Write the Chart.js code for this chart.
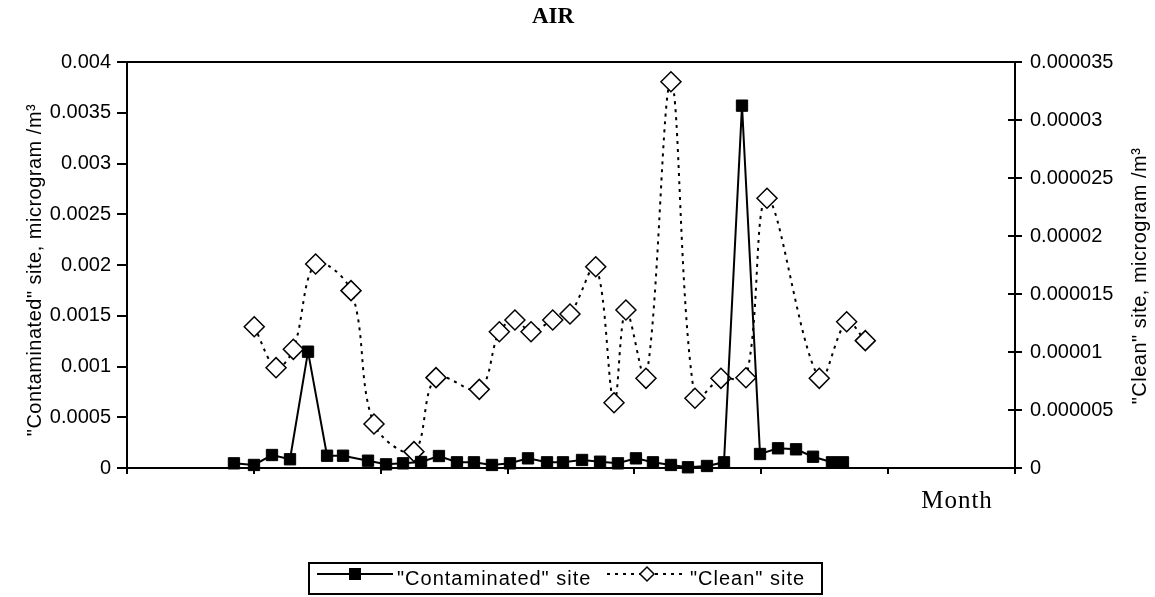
<!DOCTYPE html>
<html><head><meta charset="utf-8">
<script src="https://cdn.jsdelivr.net/npm/chart.js@4.4.0/dist/chart.umd.min.js"></script>
<style>html,body{margin:0;padding:0;background:#fff;} canvas{display:block;}</style>
</head><body>
<canvas id="c" width="1155" height="597"></canvas>
<script>
const chartTitle = 'AIR';
const xAxisTitle = 'Month';
const leftAxisTitle = '"Contaminated" site, microgram /m\u00B3';
const rightAxisTitle = '"Clean" site, microgram /m\u00B3';
const seriesNames = ['"Contaminated" site', '"Clean" site'];

const contaminatedMonth = [0.843,1.001,1.143,1.285,1.427,1.577,1.703,1.900,2.042,2.176,2.318,2.459,2.601,2.735,2.877,3.019,3.161,3.311,3.437,3.587,3.729,3.870,4.012,4.146,4.288,4.422,4.572,4.706,4.848,4.990,5.132,5.274,5.408,5.557,5.644];
const contaminatedValue = [0.000046,0.00003,0.000128,0.000086,0.001146,0.000121,0.000121,0.000072,0.000036,0.000046,0.000059,0.000118,0.000056,0.000056,0.00003,0.000046,0.000095,0.000056,0.000056,0.000079,0.000062,0.000046,0.000095,0.000056,0.00003,0.000007,0.00002,0.000056,0.00357,0.000138,0.000194,0.000184,0.000111,0.000056,0.000056];

const cleanMonth = [1.003,1.175,1.311,1.487,1.766,1.947,2.262,2.436,2.777,2.935,3.058,3.185,3.356,3.492,3.695,3.839,3.933,4.091,4.288,4.477,4.682,4.879,5.045,5.457,5.673,5.820];
const cleanValue = [1.218e-5,8.65e-6,1.023e-5,1.759e-5,1.529e-5,3.79e-6,1.41e-6,7.79e-6,6.78e-6,1.175e-5,1.276e-5,1.175e-5,1.276e-5,1.328e-5,1.735e-5,5.63e-6,1.362e-5,7.73e-6,3.330e-5,6.01e-6,7.73e-6,7.78e-6,2.325e-5,7.73e-6,1.261e-5,1.098e-5];

const leftTickLabels = ['0','0.0005','0.001','0.0015','0.002','0.0025','0.003','0.0035','0.004'];
const rightTickLabels = ['0','0.000005','0.00001','0.000015','0.00002','0.000025','0.00003','0.000035'];

const leftStep = 0.0005, rightStep = 0.000005;

const decor = {
  id: 'decor',
  afterDraw(chart) {
    const ctx = chart.ctx, a = chart.chartArea;
    const ds0 = chart.data.datasets[0], ds1 = chart.data.datasets[1];
    ctx.save();
    ctx.strokeStyle = '#000';
    ctx.lineWidth = 2;
    // top frame line
    ctx.beginPath(); ctx.moveTo(a.left - 1, a.top); ctx.lineTo(a.right + 1, a.top); ctx.stroke();
    // inward half of the right-axis cross ticks
    const y2 = chart.scales.y2;
    y2.ticks.forEach(t => {
      const py = Math.round(y2.getPixelForValue(t.value));
      ctx.beginPath(); ctx.moveTo(a.right - 7, py); ctx.lineTo(a.right, py); ctx.stroke();
    });
    ctx.fillStyle = '#000';
    // chart title
    ctx.font = 'bold 23px "Liberation Serif"';
    ctx.textAlign = 'center'; ctx.textBaseline = 'alphabetic';
    ctx.fillText(chartTitle, 553, 23);
    // x axis title
    ctx.font = '25px "Liberation Serif"';
    ctx.letterSpacing = '1px';
    ctx.fillText(xAxisTitle, 957, 508);
    // y axis titles
    ctx.font = '20px "Liberation Sans"';
    ctx.letterSpacing = '0.5px';
    ctx.textBaseline = 'middle';
    ctx.save(); ctx.translate(35, 270); ctx.rotate(-Math.PI / 2);
    ctx.fillText(leftAxisTitle, 0, 0); ctx.restore();
    ctx.save(); ctx.translate(1140, 276); ctx.rotate(-Math.PI / 2);
    ctx.fillText(rightAxisTitle, 0, 0); ctx.restore();
    // legend box
    ctx.letterSpacing = '0px';
    ctx.lineWidth = 2;
    ctx.strokeStyle = '#000';
    ctx.strokeRect(309, 563, 513, 31);
    const ly = 574;
    // series 1 sample
    ctx.lineWidth = ds0.borderWidth;
    ctx.beginPath(); ctx.moveTo(317, ly); ctx.lineTo(393, ly); ctx.stroke();
    ctx.fillStyle = ds0.pointBackgroundColor;
    ctx.fillRect(349, ly - 6, 12, 12);
    // series 2 sample
    ctx.setLineDash(ds1.borderDash);
    ctx.lineWidth = ds1.borderWidth;
    ctx.beginPath(); ctx.moveTo(607, ly); ctx.lineTo(687, ly); ctx.stroke();
    ctx.setLineDash([]);
    ctx.beginPath();
    ctx.moveTo(647 - 7, ly); ctx.lineTo(647, ly - 7); ctx.lineTo(647 + 7, ly); ctx.lineTo(647, ly + 7); ctx.closePath();
    ctx.fillStyle = '#fff'; ctx.fill();
    ctx.lineWidth = 1.5; ctx.stroke();
    // legend texts
    ctx.fillStyle = '#000';
    ctx.font = '20px "Liberation Sans"';
    ctx.letterSpacing = '1px';
    ctx.textAlign = 'left'; ctx.textBaseline = 'alphabetic';
    ctx.fillText(seriesNames[0], 397, 585);
    ctx.fillText(seriesNames[1], 690, 585);
    ctx.restore();
  }
};

const tickFont = { family: '"Liberation Sans"', size: 20 };

new Chart(document.getElementById('c'), {
  type: 'line',
  data: {
    datasets: [
      {
        label: seriesNames[0],
        data: contaminatedMonth.map((m, i) => ({ x: m, y: contaminatedValue[i] })),
        yAxisID: 'y',
        borderColor: '#000',
        borderWidth: 2,
        tension: 0,
        pointStyle: 'rect',
        pointRadius: 8,
        pointBackgroundColor: '#000',
        pointBorderColor: '#000',
        pointBorderWidth: 1,
        clip: false
      },
      {
        label: seriesNames[1],
        data: cleanMonth.map((m, i) => ({ x: m, y: cleanValue[i] })),
        yAxisID: 'y2',
        borderColor: '#000',
        borderWidth: 2,
        borderDash: [3, 5],
        tension: 0.35,
        pointStyle: 'rectRot',
        pointRadius: 10,
        pointBackgroundColor: '#fff',
        pointBorderColor: '#000',
        pointBorderWidth: 1.5,
        clip: false
      }
    ]
  },
  options: {
    responsive: false,
    animation: false,
    events: [],
    layout: { padding: { top: 62, left: 0, right: 0, bottom: 0 } },
    plugins: { legend: { display: false }, title: { display: false }, tooltip: { enabled: false } },
    scales: {
      x: {
        type: 'linear', min: 0, max: 7,
        ticks: { stepSize: 1, display: false },
        grid: { drawOnChartArea: false, drawTicks: true, tickLength: 6, color: '#000', lineWidth: 2 },
        border: { display: true, color: '#000', width: 2 },
        afterFit(s) { s.height = 129; }
      },
      y: {
        type: 'linear', position: 'left', min: 0, max: 0.004,
        ticks: { stepSize: leftStep, color: '#000', font: tickFont, padding: 6,
          callback: (v) => leftTickLabels[Math.round(v / leftStep)] },
        grid: { drawOnChartArea: false, drawTicks: true, tickLength: 10, color: '#000', lineWidth: 2 },
        border: { display: true, color: '#000', width: 2 },
        afterFit(s) { s.width = 127; }
      },
      y2: {
        type: 'linear', position: 'right', min: 0, max: 0.000035,
        ticks: { stepSize: rightStep, color: '#000', font: tickFont, padding: 8,
          callback: (v) => rightTickLabels[Math.round(v / rightStep)] },
        grid: { drawOnChartArea: false, drawTicks: true, tickLength: 7, color: '#000', lineWidth: 2 },
        border: { display: true, color: '#000', width: 2 },
        afterFit(s) { s.width = 140; }
      }
    }
  },
  plugins: [decor]
});
</script>
</body></html>
